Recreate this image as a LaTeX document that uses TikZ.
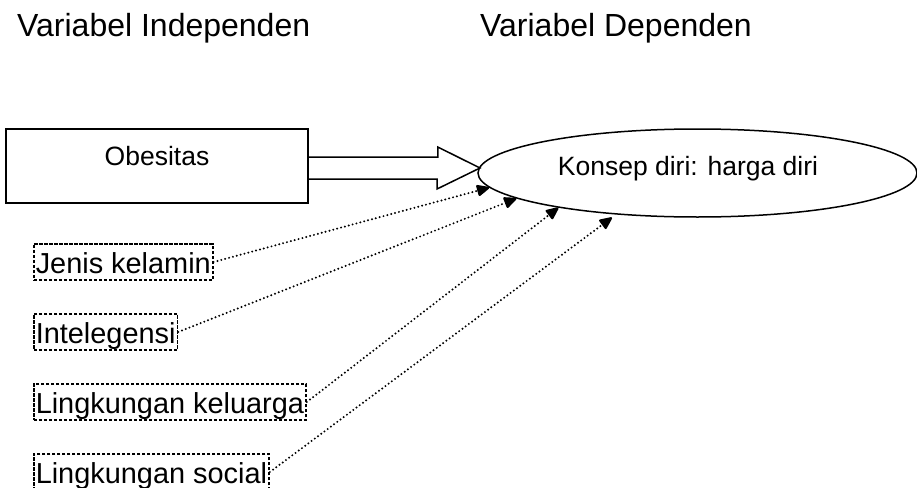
\documentclass[tikz,border=0pt]{standalone}
\usepackage{fontspec}
\setmainfont{Liberation Sans}
\usetikzlibrary{positioning,calc,arrows.meta,shapes.geometric}
\newcommand*{\fs}[1]{\fontsize{#1}{#1}\selectfont}

\begin{document}
\begin{tikzpicture}[x=1pt,y=-1pt,
  faktor/.style={draw,dash pattern=on 3.5pt off 1.5pt,line width=1.5pt,
    inner xsep=2pt,inner ysep=0pt,text height=29pt,text depth=7pt,
    anchor=base west,font=\fs{28.9}},
  pengaruh/.style={line width=2.2pt,line cap=round,dash pattern=on 0pt off 4pt,
    -{Triangle[length=14pt,width=12pt,round=false]}}]
\useasboundingbox (0,0) rectangle (917,487);
% Titles
\node[anchor=base west,inner sep=0,font=\fs{32}] (judulx) at (17,37) {Variabel Independen};
\node[anchor=base west,inner sep=0,font=\fs{32}] (juduly) at (480,37) {Variabel Dependen};
% Independent and dependent variable
\node[draw,line width=1.5pt,minimum width=302pt,minimum height=74pt,
  text height=19pt,text depth=21pt,font=\fs{26.5}] (obes) at (157,166) {Obesitas};
\node[draw,ellipse,line width=1.5pt,minimum width=439pt,minimum height=88pt] (konsep) at (697.5,173) {};
\node[anchor=base,inner sep=0,font=\fs{26.5}] (konseptext) at (688,175) {Konsep diri: harga diri};
% Hollow arrow between them
\coordinate (pangkal) at ($(obes.east)+(0,2)$);
\coordinate (ujung) at (480,168);
\draw[line width=1.5pt] ($(pangkal)+(0,-11)$) -- ++(129,0) -- ++(0,-10) -- (ujung)
  -- ++(-43,21) -- ++(0,-10) -- ($(pangkal)+(0,11)$);
% Other factors
\node[faktor] (jk) at (33,273) {Jenis kelamin};
\node[faktor] (intel) at (33,343) {Intelegensi};
\node[faktor] (keluarga) at (33,413) {Lingkungan keluarga};
\node[faktor] (sosial) at (33,483) {Lingkungan social};
% Dotted influences
\draw[pengaruh] (jk.east) -- (konsep.184);
\draw[pengaruh] (intel.east) -- (konsep.188);
\draw[pengaruh] (keluarga.east) -- (konsep.194);
\draw[pengaruh,shorten >=5pt] (sosial.east) -- (konsep.207);
\end{tikzpicture}
\end{document}
